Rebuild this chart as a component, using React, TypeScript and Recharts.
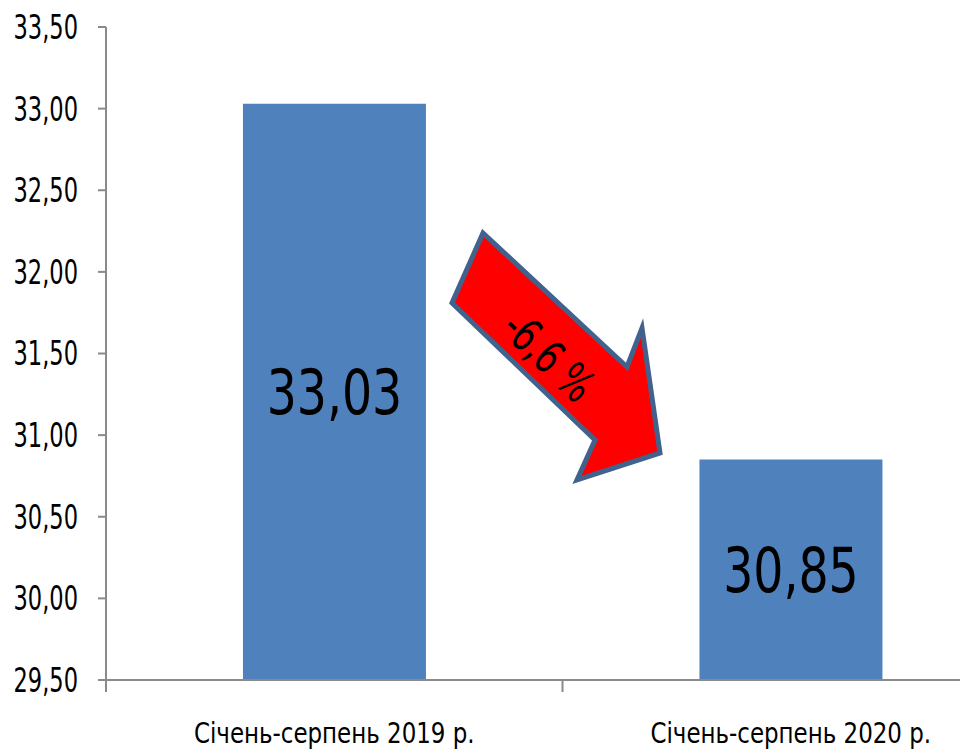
import React from "react";
import {
  BarChart,
  Bar,
  XAxis,
  YAxis,
  LabelList,
} from "recharts";

const categories = ["Січень-серпень 2019 р.", "Січень-серпень 2020 р."];
const values = [33.03, 30.85];
const yTicks = [29.5, 30, 30.5, 31, 31.5, 32, 32.5, 33, 33.5];
const changeLabel = "-6,6 %";

const data = categories.map((name, i) => ({ name, value: values[i] }));

const FONT = "'DejaVu Sans Condensed', 'DejaVu Sans', sans-serif";
const AXIS = "#8A8A8A";
const fmt = (v: number) => v.toFixed(2).replace(".", ",");

function YTick({ x, y, payload }: any) {
  return (
    <g transform={`translate(${x},${y})`}>
      <text
        transform="scale(0.76,1)"
        textAnchor="end"
        dy="0.36em"
        fontFamily={FONT}
        fontSize={33}
        fill="#000"
      >
        {fmt(payload.value)}
      </text>
    </g>
  );
}

function XTick({ x, y, payload, index }: any) {
  // excel style: tick marks sit between categories
  const half = payload?.offset || 229;
  return (
    <g transform={`translate(${x},${y})`}>
      <line x1={-half} x2={-half} y1={0} y2={12} stroke={AXIS} strokeWidth={2} />
      {index === categories.length - 1 && (
        <line x1={half} x2={half} y1={0} y2={12} stroke={AXIS} strokeWidth={2} />
      )}
      <text
        y={42}
        transform="scale(0.88,1)"
        textAnchor="middle"
        dy="0.71em"
        fontFamily={FONT}
        fontSize={29}
        fill="#000"
      >
        {payload.value}
      </text>
    </g>
  );
}

function ValueLabel({ x, y, width, height, value }: any) {
  const cx = Number(x) + Number(width) / 2;
  const cy = Number(y) + Number(height) / 2;
  return (
    <g transform={`translate(${cx},${cy})`}>
      <text
        transform="scale(0.85,1)"
        textAnchor="middle"
        dy="0.36em"
        fontFamily={FONT}
        fontSize={62}
        fill="#000"
      >
        {fmt(Number(value))}
      </text>
    </g>
  );
}

function DownArrow() {
  // decorative arrow between the two bars
  const pts = "483,233 627,367 642,328 660,453 577,480 595,440 452,303";
  return (
    <svg
      width={960}
      height={755}
      style={{ position: "absolute", left: 0, top: 0, pointerEvents: "none" }}
    >
      <polygon
        points={pts}
        fill="#FF0000"
        stroke="#41628C"
        strokeWidth={5}
        strokeLinejoin="miter"
      />
      <g transform="translate(549 356) rotate(44)">
        <text
          transform="scale(0.8,1)"
          textAnchor="middle"
          dy="0.36em"
          fontFamily={FONT}
          fontSize={46}
          fill="#000"
        >
          {changeLabel}
        </text>
      </g>
    </svg>
  );
}

export default function App() {
  return (
    <div
      style={{
        position: "absolute",
        left: 0,
        top: 0,
        width: 960,
        height: 755,
        overflow: "hidden",
        background: "#fff",
      }}
    >
      <BarChart
        width={1038}
        height={755}
        data={data}
        margin={{ top: 27, right: 19, left: 0, bottom: 0 }}
        barCategoryGap="30%"
      >
        <XAxis
          dataKey="name"
          axisLine={{ stroke: AXIS, strokeWidth: 2 }}
          tickLine={false}
          tickSize={0}
          tickMargin={0}
          height={75}
          interval={0}
          tick={<XTick />}
        />
        <YAxis
          domain={[29.5, 33.5]}
          ticks={yTicks}
          interval={0}
          width={106}
          tickSize={8}
          tickMargin={20}
          axisLine={{ stroke: AXIS, strokeWidth: 2 }}
          tickLine={{ stroke: AXIS, strokeWidth: 2 }}
          tick={<YTick />}
        />
        <Bar dataKey="value" fill="#4F81BD" isAnimationActive={false}>
          <LabelList dataKey="value" content={<ValueLabel />} />
        </Bar>
      </BarChart>
      <DownArrow />
    </div>
  );
}
